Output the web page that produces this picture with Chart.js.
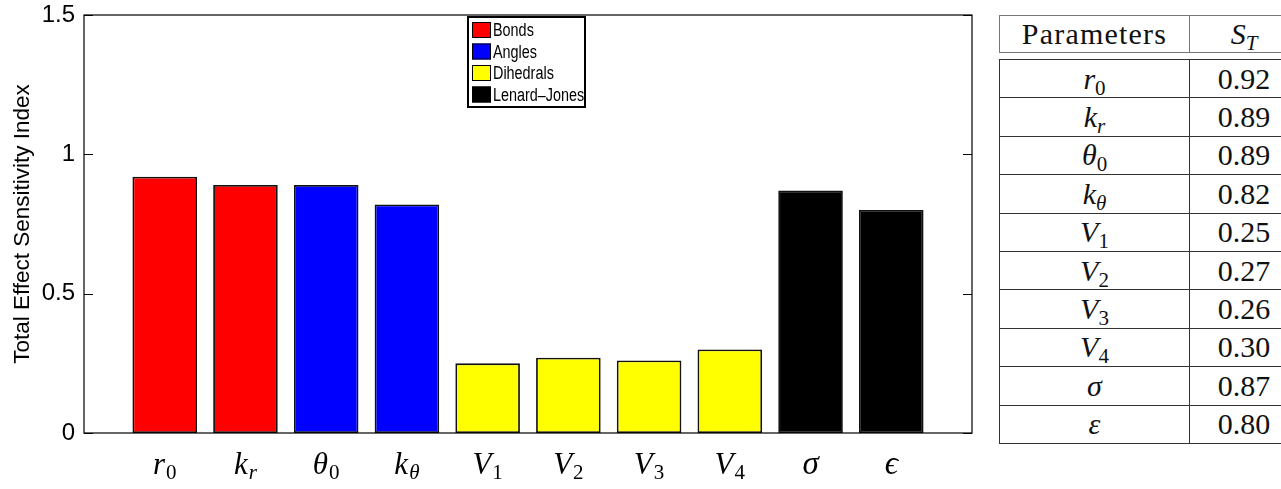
<!DOCTYPE html>
<html>
<head>
<meta charset="utf-8">
<script src="https://cdn.jsdelivr.net/npm/chart.js@4"></script>
<style>
  html, body { margin: 0; padding: 0; background: #fff; overflow: hidden; }
  body { width: 1281px; height: 489px; position: relative; }
  #wrap { position: absolute; left: 0; top: 0; width: 990px; height: 489px; }
  .tbl { position: absolute; left: 999px; border-collapse: collapse; table-layout: fixed;
         font-family: "Liberation Serif", "Times New Roman", serif; font-size: 30px; color: #111; }
  .tbl td { text-align: center; vertical-align: middle; padding: 0; line-height: 1; }
  #head { top: 15px; width: 300px; }
  #head td { border: 1px solid #777; height: 36px; }
  #body { top: 59px; width: 300px; }
  #body td { border: 1px solid #333; height: 37.4px; }
  .tbl i { font-style: italic; }
  .tbl sub { font-size: 21px; vertical-align: -6px; line-height: 0; }
  #head .p { letter-spacing: 1.2px; }
</style>
</head>
<body>
<div id="wrap"><canvas id="c"></canvas></div>
<table class="tbl" id="head"><colgroup><col style="width:190px"><col></colgroup><tr><td class="p">Parameters</td><td><i>S</i><sub><i>T</i></sub></td></tr></table>
<table class="tbl" id="body"><colgroup><col style="width:190px"><col></colgroup></table>
<script>
// Parameter symbols: base glyph and subscript (italic subscript for letters)
const labelBase = ['r', 'k', 'θ', 'k', 'V', 'V', 'V', 'V', 'σ', 'ϵ'];
const labelSub  = ['0', 'r', '0', 'θ', '1', '2', '3', '4', '', ''];
const tableBase = ['r', 'k', 'θ', 'k', 'V', 'V', 'V', 'V', 'σ', 'ε'];
// Total effect sensitivity index per parameter
const values = [0.92, 0.89, 0.89, 0.82, 0.25, 0.27, 0.26, 0.30, 0.87, 0.80];
// Force-field term each parameter belongs to
const groupOf = [0, 0, 1, 1, 2, 2, 2, 2, 3, 3];
const groups = ['Bonds', 'Angles', 'Dihedrals', 'Lenard–Jones'];
const groupColors = ['#ff0000', '#0000ff', '#ffff00', '#000000'];
const yTicks = [0, 0.5, 1, 1.5];

// Sensitivity table
const tbody = document.getElementById('body');
values.forEach((v, i) => {
  const tr = document.createElement('tr');
  const sub = labelSub[i] ? '<sub>' + (/[0-9]/.test(labelSub[i]) ? labelSub[i] : '<i>' + labelSub[i] + '</i>') + '</sub>' : '';
  tr.innerHTML = '<td><i>' + tableBase[i] + '</i>' + sub + '</td><td>' + v.toFixed(2) + '</td>';
  tbody.appendChild(tr);
});

const datasets = groups.map((g, gi) => ({
  label: g,
  backgroundColor: groupColors[gi],
  borderColor: '#111',
  borderWidth: 1.8,
  borderSkipped: false,
  grouped: false,
  barPercentage: 0.8,
  categoryPercentage: 1,
  data: values.map((v, i) => ({ x: i + 1, y: v })).filter((p, i) => groupOf[i] === gi)
}));

const decor = {
  id: 'decor',
  afterDatasetsDraw(chart) {
    const { ctx, chartArea: a, scales: { y } } = chart;
    ctx.save();
    ctx.strokeStyle = '#000';
    ctx.lineWidth = 1.2;
    ctx.strokeRect(a.left, a.top, a.right - a.left, a.bottom - a.top);
    ctx.beginPath();
    yTicks.forEach(t => {
      const py = Math.round(y.getPixelForValue(t)) + 0.5;
      ctx.moveTo(a.left, py); ctx.lineTo(a.left + 9, py);
      ctx.moveTo(a.right, py); ctx.lineTo(a.right - 9, py);
    });
    ctx.stroke();
    ctx.restore();
  },
  afterDraw(chart) {
    const { ctx, scales: { x } } = chart;
    ctx.save();
    ctx.fillStyle = '#000';
    ctx.textBaseline = 'alphabetic';
    const baseFont = 'italic 31px "Liberation Serif", serif';
    const greekFont = 'italic 33px "Liberation Serif", serif';
    labelBase.forEach((b, i) => {
      const cx = x.getPixelForValue(i + 1);
      const s = labelSub[i];
      const isDigit = /[0-9]/.test(s);
      const subFont = (isDigit ? '' : 'italic ') + '21px "Liberation Serif", serif';
      ctx.font = s ? baseFont : greekFont;
      const wb = ctx.measureText(b).width;
      ctx.font = subFont;
      const ws = s ? ctx.measureText(s).width + 1 : 0;
      const x0 = cx - (wb + ws) / 2;
      ctx.font = s ? baseFont : greekFont;
      ctx.textAlign = 'left';
      ctx.fillText(b, x0, 474);
      if (s) { ctx.font = subFont; ctx.fillText(s, x0 + wb + 1, 479); }
    });

    // Legend box
    const lx = 468, ly = 17, lw = 117, lh = 90;
    ctx.fillStyle = '#fff';
    ctx.fillRect(lx, ly, lw, lh);
    ctx.lineWidth = 2;
    ctx.strokeStyle = '#000';
    ctx.strokeRect(lx, ly, lw, lh);
    chart.data.datasets.forEach((ds, i) => {
      const ry = ly + 5 + i * 21.5;
      ctx.fillStyle = ds.backgroundColor;
      ctx.fillRect(lx + 4, ry, 19, 16);
      ctx.lineWidth = 1;
      ctx.strokeStyle = '#000';
      ctx.strokeRect(lx + 4.5, ry + 0.5, 18, 15);
      ctx.fillStyle = '#000';
      ctx.save();
      ctx.translate(lx + 25, ry + 14);
      ctx.scale(0.8, 1);
      ctx.font = '18px "Liberation Sans", Arial, sans-serif';
      ctx.textAlign = 'left';
      ctx.fillText(ds.label, 0, 0);
      ctx.restore();
    });
    ctx.restore();
  }
};

new Chart(document.getElementById('c'), {
  type: 'bar',
  data: { datasets },
  options: {
    responsive: true,
    maintainAspectRatio: false,
    animation: false,
    layout: { padding: { top: 15, right: 18, left: 0, bottom: 0 } },
    plugins: { legend: { display: false }, tooltip: { enabled: false } },
    scales: {
      x: {
        type: 'linear', min: 0, max: 11, offset: false,
        grid: { display: false, drawTicks: false },
        border: { display: false },
        ticks: { display: false },
        afterFit: s => { s.height = 56; s.paddingLeft = 0; s.paddingRight = 0; }
      },
      y: {
        min: 0, max: 1.5,
        afterBuildTicks: s => { s.ticks = yTicks.map(v => ({ value: v })); },
        grid: { display: false, drawTicks: false },
        border: { display: false },
        ticks: { padding: 9, color: '#000', callback: v => String(v),
                 font: { family: '"Liberation Sans", Arial, sans-serif', size: 24 } },
        title: { display: true, text: 'Total Effect Sensitivity Index', color: '#000', padding: { top: 9, bottom: 0 },
                 font: { family: '"Liberation Sans", Arial, sans-serif', size: 22.5 } },
        afterFit: s => { s.width = 84; s.paddingTop = 0; s.paddingBottom = 0; }
      }
    }
  },
  plugins: [decor]
});
</script>
</body>
</html>
